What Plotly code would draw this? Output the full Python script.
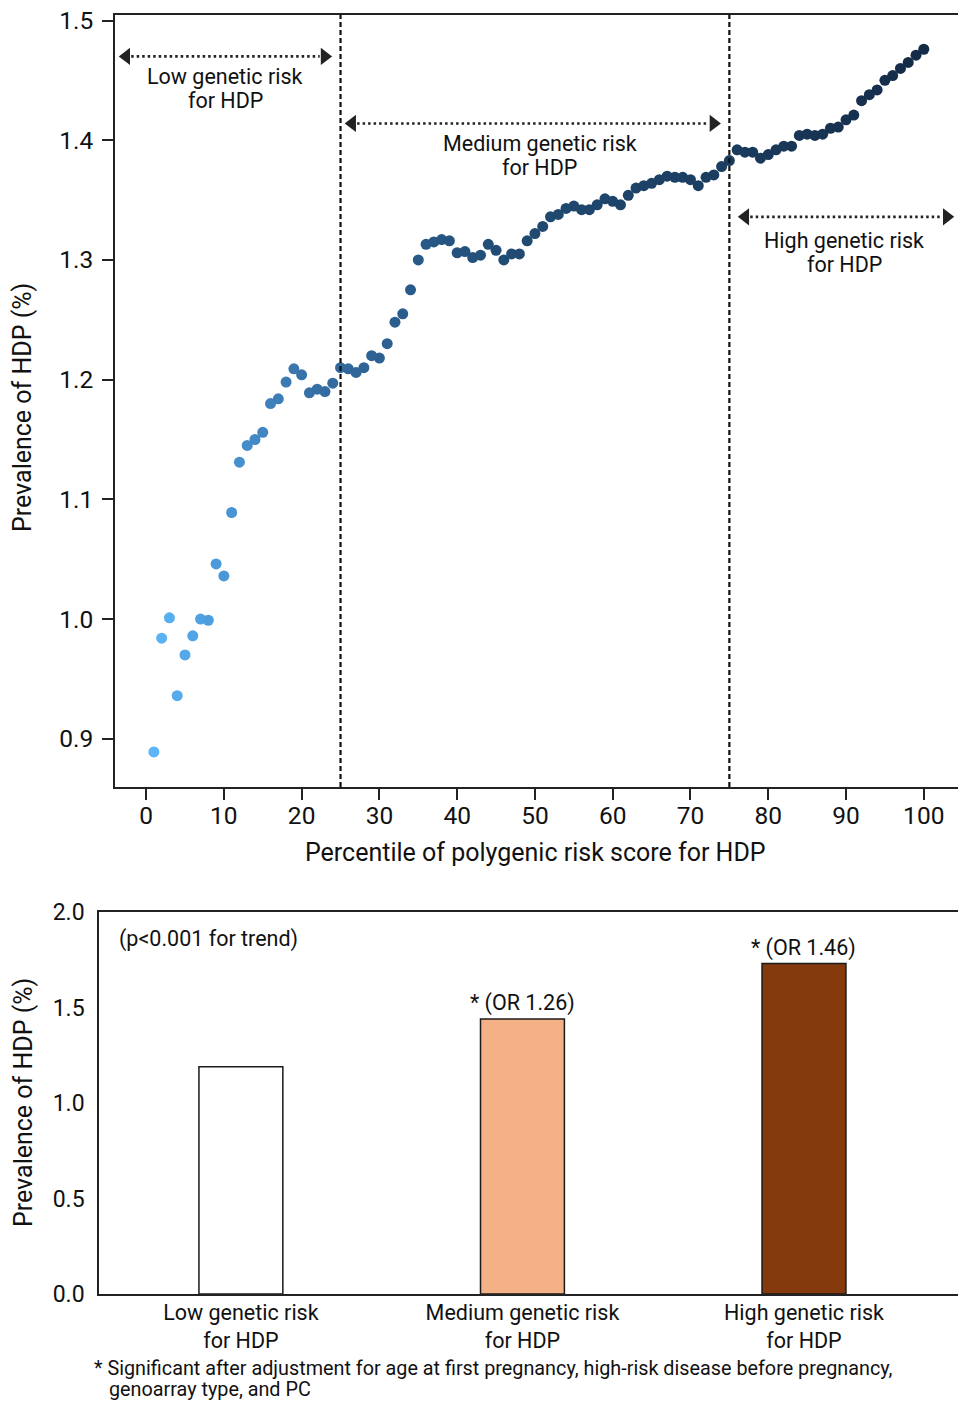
import plotly.graph_objects as go

# ---------------- data ----------------
percentile = list(range(1, 101))
prevalence = [
    0.889, 0.984, 1.001, 0.936, 0.970, 0.986, 1.000, 0.999, 1.046, 1.036,
    1.089, 1.131, 1.145, 1.150, 1.156, 1.180, 1.184, 1.198, 1.209, 1.204,
    1.189, 1.192, 1.190, 1.197, 1.210, 1.209, 1.206, 1.210, 1.220, 1.218,
    1.230, 1.248, 1.255, 1.275, 1.300, 1.313, 1.315, 1.317, 1.316, 1.306,
    1.307, 1.302, 1.304, 1.313, 1.308, 1.300, 1.305, 1.305, 1.316, 1.322,
    1.328, 1.336, 1.338, 1.343, 1.345, 1.342, 1.342, 1.346, 1.351, 1.349,
    1.346, 1.354, 1.360, 1.362, 1.364, 1.367, 1.370, 1.369, 1.369, 1.367,
    1.362, 1.369, 1.371, 1.378, 1.383, 1.392, 1.390, 1.390, 1.385, 1.388,
    1.392, 1.395, 1.395, 1.404, 1.405, 1.404, 1.405, 1.410, 1.411, 1.417,
    1.421, 1.433, 1.438, 1.442, 1.450, 1.454, 1.460, 1.465, 1.471, 1.476,
]
cut_points = [25, 75]
region_labels = [("Low genetic risk", "for HDP"),
                 ("Medium genetic risk", "for HDP"),
                 ("High genetic risk", "for HDP")]
region_spans = [(-3.6, 24.0), (25.45, 74.0), (76.0, 104.0)]
region_arrow_y = [1.470, 1.414, 1.336]
region_text_x = [10.2, 50.6, 89.8]
region_text_y = [1.4428, 1.3876, 1.3066]

bar_categories = ["Low genetic risk<br>for HDP", "Medium genetic risk<br>for HDP", "High genetic risk<br>for HDP"]
bar_values = [1.19, 1.44, 1.73]
bar_colors = ["#ffffff", "#f3b185", "#843a0d"]
bar_notes = ["", "* (OR 1.26)", "* (OR 1.46)"]
y_ticks_top = [0.9, 1.0, 1.1, 1.2, 1.3, 1.4, 1.5]
x_ticks_top = list(range(0, 101, 10))
y_ticks_bottom = [0.0, 0.5, 1.0, 1.5, 2.0]

FONT = "Roboto"
W, H = 958, 1401
TXT = "#111111"

fig = go.Figure()

# scatter
fig.add_trace(go.Scatter(
    x=percentile, y=prevalence, mode="markers",
    marker=dict(size=11, color=percentile, cmin=1, cmax=100,
                colorscale=[[0, "#5bb5f7"], [0.1, "#4894d4"], [0.2, "#3670a6"],
                            [0.32, "#2a5d8c"], [0.45, "#214c74"], [0.7, "#1c3f62"],
                            [1, "#142b47"]],
                line=dict(width=0)),
    xaxis="x", yaxis="y", showlegend=False, hoverinfo="x+y"))

# arrow heads (triangles) at ends of dotted region lines
tip_off = 1.05
for (x0, x1), ya in zip(region_spans, region_arrow_y):
    fig.add_trace(go.Scatter(
        x=[x0 + tip_off, x1 - tip_off], y=[ya, ya], mode="markers",
        marker=dict(symbol=["triangle-left", "triangle-right"], size=15, color="#222222"),
        xaxis="x", yaxis="y", showlegend=False, hoverinfo="skip", cliponaxis=False))
    fig.add_shape(type="line", xref="x", yref="y", x0=x0 + 1.6 * tip_off, x1=x1 - 1.6 * tip_off,
                  y0=ya, y1=ya, line=dict(color="#222222", width=2.6, dash="2.5px,3px"))

for xt, yt, (l1, l2) in zip(region_text_x, region_text_y, region_labels):
    for line_text, shift in ((l1, 12), (l2, -12)):
        fig.add_annotation(x=xt, y=yt, xref="x", yref="y", text=line_text, showarrow=False,
                           font=dict(family=FONT, size=21.5, color=TXT), align="center",
                           yanchor="middle", yshift=shift)

for c in cut_points:
    fig.add_shape(type="line", xref="x", yref="y domain", x0=c, x1=c, y0=0, y1=1,
                  line=dict(color="#111111", width=2.2, dash="5px,3px"))

# bars
fig.add_trace(go.Bar(
    x=[0, 1, 2], y=bar_values, width=0.298,
    marker=dict(color=bar_colors, line=dict(color="#1a1a1a", width=1.5)),
    xaxis="x2", yaxis="y2", showlegend=False))

for i, (v, note) in enumerate(zip(bar_values, bar_notes)):
    if note:
        fig.add_annotation(x=i, y=v, xref="x2", yref="y2", text=note, showarrow=False,
                           yanchor="bottom", yshift=1,
                           font=dict(family=FONT, size=21.5, color=TXT))

fig.add_annotation(x=117 / W, y=1 - 939 / H, xref="paper", yref="paper",
                   text="(p<0.001 for trend)", showarrow=False, xanchor="left", yanchor="middle",
                   font=dict(family=FONT, size=21.5, color=TXT))

# axis titles
fig.add_annotation(x=535 / W, y=1 - 852 / H, xref="paper", yref="paper",
                   text="Percentile of polygenic risk score for HDP", showarrow=False,
                   yanchor="middle", font=dict(family=FONT, size=25, color=TXT))
fig.add_annotation(x=23 / W, y=1 - 408 / H, xref="paper", yref="paper",
                   text="Prevalence of HDP (%)", showarrow=False, textangle=-90,
                   xanchor="center", yanchor="middle",
                   font=dict(family=FONT, size=25, color=TXT))
fig.add_annotation(x=23 / W, y=1 - 1103 / H, xref="paper", yref="paper",
                   text="Prevalence of HDP (%)", showarrow=False, textangle=-90,
                   xanchor="center", yanchor="middle",
                   font=dict(family=FONT, size=25, color=TXT))

# footnote
fig.add_annotation(x=92 / W, y=1 - 1368 / H, xref="paper", yref="paper",
                   text="* Significant after adjustment for age at first pregnancy, high-risk disease before pregnancy,",
                   showarrow=False, xanchor="left", yanchor="middle",
                   font=dict(family=FONT, size=19.8, color=TXT))
fig.add_annotation(x=107 / W, y=1 - 1389 / H, xref="paper", yref="paper",
                   text="genoarray type, and PC",
                   showarrow=False, xanchor="left", yanchor="middle",
                   font=dict(family=FONT, size=19.8, color=TXT))

axis_common = dict(showgrid=False, zeroline=False, linecolor="#222222", linewidth=1.6,
                   automargin=False,
                   tickfont=dict(family=FONT, size=24.5, color=TXT))

fig.update_layout(
    width=W, height=H, margin=dict(l=0, r=0, t=0, b=0, autoexpand=False),
    paper_bgcolor="white", plot_bgcolor="white",
    font=dict(family=FONT, color=TXT),
    xaxis=dict(domain=[115 / W, 1.0], range=[-4.0, 104.4], anchor="y",
               tickvals=x_ticks_top, ticks="outside", ticklen=11, tickwidth=1.6,
               tickcolor="#222222", showline=True, mirror=True, ticklabelstandoff=-5,
               **axis_common),
    yaxis=dict(domain=[1 - 787 / H, 1 - 15 / H], range=[0.8597, 1.5046], anchor="x",
               tickvals=y_ticks_top, tickformat=".1f", ticks="outside", ticklen=11,
               tickwidth=1.6, tickcolor="#222222", showline=True, mirror=False,
               ticklabelstandoff=4, **axis_common),
    xaxis2=dict(domain=[99 / W, 1.0], range=[-0.504, 2.547], anchor="y2",
                tickvals=[0, 1, 2], ticktext=bar_categories, ticks="",
                showline=True, mirror=True, showgrid=False, zeroline=False,
                linecolor="#222222", linewidth=1.6, automargin=False, ticklabelstandoff=-2,
                tickfont=dict(family=FONT, size=21.5, color=TXT)),
    yaxis2=dict(domain=[1 - 1294 / H, 1 - 912 / H], range=[0, 2.0], anchor="x2",
                tickvals=y_ticks_bottom, tickformat=".1f", ticks="",
                showline=True, mirror=False, showgrid=False, zeroline=False,
                linecolor="#222222", linewidth=1.6, ticklabelstandoff=8, automargin=False,
                tickfont=dict(family=FONT, size=23, color=TXT)),
)

fig.write_html("out.html", config={"displayModeBar": False},
               post_script="document.body.style.margin='0';document.body.style.overflow='hidden';")
